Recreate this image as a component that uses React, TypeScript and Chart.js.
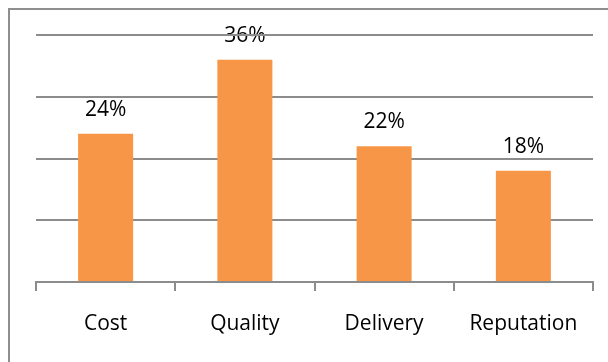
import React, { useEffect, useRef } from "react";
import { Chart, registerables } from "chart.js";

Chart.register(...registerables);

const categories = ["Cost", "Quality", "Delivery", "Reputation"];
const shares = [24, 36, 22, 18];
const yTicks = [0, 10, 20, 30, 40];

const FONT = "'Open Sans', 'Noto Sans', sans-serif";

export default function App() {
  const ref = useRef<HTMLCanvasElement | null>(null);

  useEffect(() => {
    if (!ref.current) return;
    const frame = {
      id: "frame",
      beforeDraw(chart: any) {
        const ctx = chart.ctx;
        ctx.save();
        ctx.fillStyle = "#8e8e8e";
        ctx.fillRect(8, 8, 2, chart.height - 8);
        ctx.fillRect(8, 8, chart.width - 8, 2);
        const meta = chart.getDatasetMeta(0);
        ctx.font = `21px ${FONT}`;
        ctx.fillStyle = "#000";
        ctx.textAlign = "center";
        ctx.textBaseline = "alphabetic";
        meta.data.forEach((bar: any, i: number) => {
          ctx.fillText(`${shares[i]}%`, bar.x, bar.y - 18);
        });
        ctx.restore();
      },
    };
    const chart = new Chart(ref.current, {
      type: "bar",
      data: {
        labels: categories,
        datasets: [
          {
            data: shares,
            backgroundColor: "#F79646",
            borderWidth: 0,
            barPercentage: 0.395,
            categoryPercentage: 1,
          },
        ],
      },
      options: {
        animation: false,
        responsive: false,
        maintainAspectRatio: false,
        layout: { padding: { left: 36, right: 15, top: 35, bottom: 0 } },
        plugins: {
          legend: { display: false },
          tooltip: { enabled: false },
          title: { display: false },
        },
        scales: {
          x: {
            offset: true,
            border: { display: true, color: "#8c8c8c", width: 2 },
            grid: {
              offset: true,
              drawOnChartArea: false,
              drawTicks: true,
              tickLength: 9,
              color: "#8c8c8c",
              lineWidth: 2,
            },
            ticks: {
              padding: 20,
              color: "#000",
              font: { family: FONT, size: 21 },
              maxRotation: 0,
            },
            afterFit(scale: any) {
              scale.height = 80;
            },
          },
          y: {
            min: yTicks[0],
            max: yTicks[yTicks.length - 1],
            afterBuildTicks(scale: any) {
              scale.ticks = yTicks.map((v) => ({ value: v }));
            },
            border: { display: false },
            grid: { color: "#8c8c8c", lineWidth: 2, drawTicks: false, tickLength: 0 },
            ticks: { display: false },
          },
        },
      },
      plugins: [frame],
    });
    return () => chart.destroy();
  }, []);

  return (
    <div style={{ position: "absolute", left: 0, top: 0, width: 608, height: 362 }}>
      <canvas ref={ref} width={608} height={362} style={{ display: "block", width: 608, height: 362 }} />
    </div>
  );
}
